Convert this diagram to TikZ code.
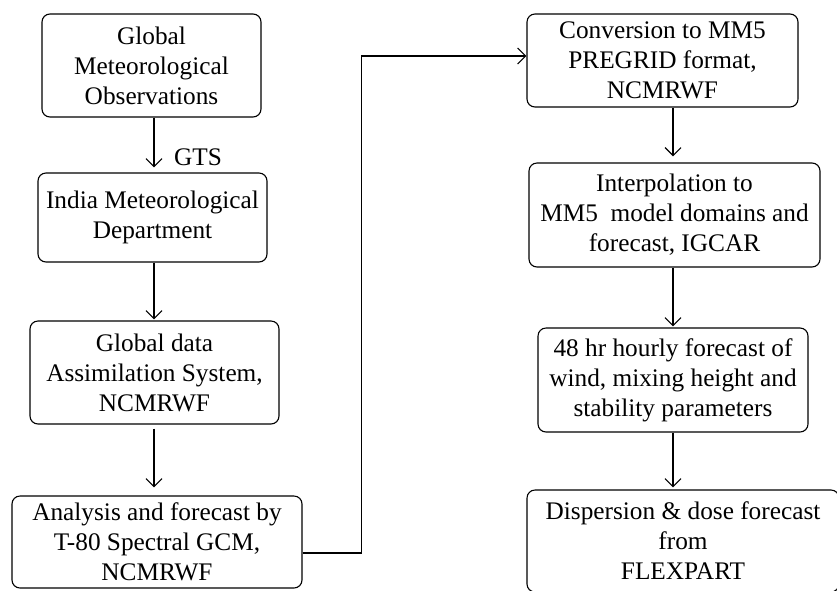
\documentclass[tikz,border=0pt]{standalone}
\usepackage{fontspec}
\setmainfont{Liberation Serif}
\usetikzlibrary{arrows.meta}
\begin{document}
\begin{tikzpicture}[x=1pt,y=-1pt,
  box/.style={draw, line width=1.1pt, rounded corners=8pt, align=center, inner sep=0pt,
    font=\fontsize{25.3}{30}\selectfont},
  flow/.style={line width=1.2pt, -{Straight Barb[length=8pt,width=16pt,line width=1.2pt]}}]
\useasboundingbox (0,0) rectangle (837,590);
\node[box, minimum width=219pt, minimum height=103pt] (b1) at (151.5,65.5) {Global\\Meteorological\\Observations};
\node[box, minimum width=229pt, minimum height=89pt] (b2) at (152.5,217.5) {India Meteorological\\Department};
\node[box, minimum width=249pt, minimum height=103pt] (b3) at (154.5,372.5) {Global data\\Assimilation System,\\NCMRWF};
\node[box, minimum width=290pt, minimum height=92pt] (b4) at (157,542) {Analysis and forecast by\\T-80 Spectral GCM,\\NCMRWF};
\node[box, minimum width=271pt, minimum height=93pt] (r1) at (662.5,60.5) {Conversion to MM5\\PREGRID format,\\NCMRWF};
\node[box, minimum width=291pt, minimum height=104pt] (r2) at (674.5,215) {Interpolation to\\MM5\ \ model domains and\\forecast, IGCAR};
\node[box, minimum width=270pt, minimum height=104pt] (r3) at (673,380) {48 hr hourly forecast of\\wind, mixing height and\\stability parameters};
\node[box, minimum width=312pt, minimum height=102pt] (r4) at (683,541) {Dispersion \& dose forecast\\from\\FLEXPART};
\node[font=\fontsize{25.3}{30}\selectfont, anchor=west, inner sep=0pt] (gts) at (174,157) {GTS};
\draw[flow] (b1.south -| 154,0) -- ([yshift=5pt]b2.north -| 154,0);
\draw[flow] (b2.south -| 154,0) -- ([yshift=1pt]b3.north -| 154,0);
\draw[flow] ([yshift=-4pt]b3.south -| 154,0) -- ([yshift=8pt]b4.north -| 154,0);
\draw[flow] ([yshift=-11pt]b4.east) -- ++(59,0) |- ([yshift=4.5pt]r1.west);
\draw[flow] (r1.south -| 673,0) -- ([yshift=6pt]r2.north -| 673,0);
\draw[flow] (r2.south -| 673,0) -- ([yshift=1pt]r3.north -| 673,0);
\draw[flow] (r3.south -| 673,0) -- ([yshift=2pt]r4.north -| 673,0);
\end{tikzpicture}
\end{document}
